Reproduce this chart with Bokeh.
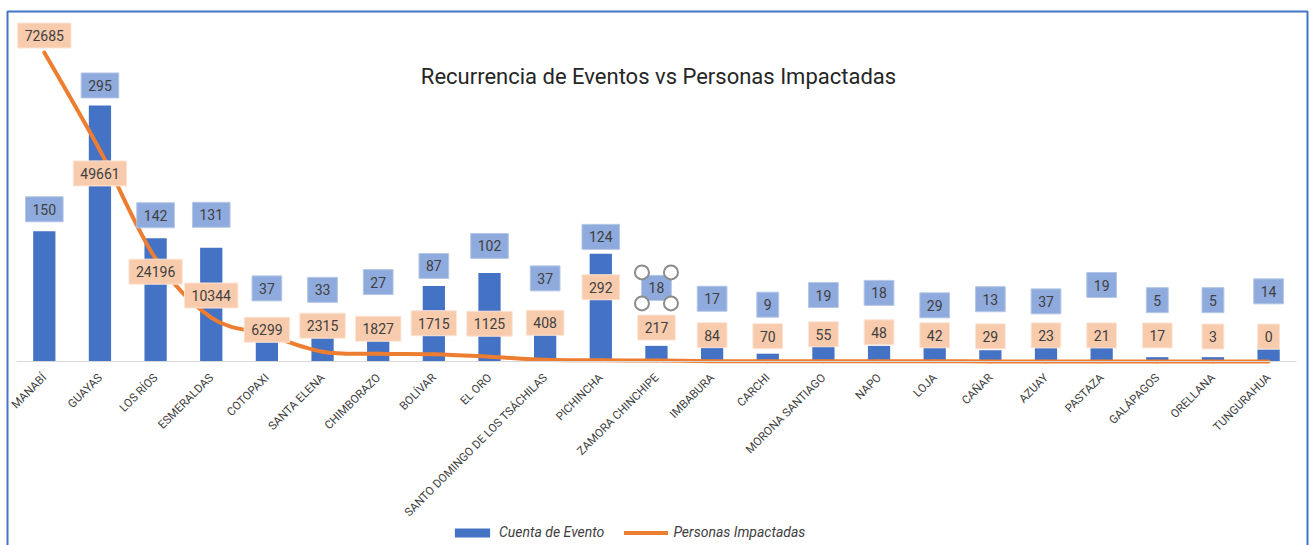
import math
from bokeh.plotting import figure
from bokeh.models import Range1d, FixedTicker, Legend, LegendItem, ColumnDataSource, BoxAnnotation
from bokeh.core.properties import value
from bokeh.embed import file_html
from bokeh.resources import INLINE

# ---------------- data ----------------
provincias = ["MANABÍ", "GUAYAS", "LOS RÍOS", "ESMERALDAS", "COTOPAXI", "SANTA ELENA",
              "CHIMBORAZO", "BOLÍVAR", "EL ORO", "SANTO DOMINGO DE LOS TSÁCHILAS",
              "PICHINCHA", "ZAMORA CHINCHIPE", "IMBABURA", "CARCHI", "MORONA SANTIAGO",
              "NAPO", "LOJA", "CAÑAR", "AZUAY", "PASTAZA", "GALÁPAGOS", "ORELLANA",
              "TUNGURAHUA"]
eventos = [150, 295, 142, 131, 37, 33, 27, 87, 102, 37, 124, 18, 17, 9, 19, 18, 29, 13,
           37, 19, 5, 5, 14]
personas = [72685, 49661, 24196, 10344, 6299, 2315, 1827, 1715, 1125, 408, 292, 217, 84,
            70, 55, 48, 42, 29, 23, 21, 17, 3, 0]

# ---------------- label layout (px above the data point) ----------------
ev_label_lift = [22, 20, 23, 33, 41, 43, 56, 20, 27, 51, 17, 58, 48, 49, 50, 53, 31, 51,
                 28, 60, 57, 57, 58]
per_label_lift = [17, -23, -13, 22, 5, 26, 25, 31, 33, 37, 73, 33, 26, 25, 27, 29, 26, 25,
                  26, 26, 26, 25, 25]

FONT = "Roboto"
BLUE = "#4472c4"
ORANGE = "#ed7d31"
TXT = "#404040"

# ---------------- layout constants (pixels) ----------------
W, H = 1310, 545
PX_PER_CAT = 55.65      # width of one category band
X0_PX = 43.8            # centre of first category
BASE_PX = 361           # baseline (value 0)
EV_PX = 0.868           # px per event
PER_PX = 0.004251       # px per person


def xd(px):
    return (px - X0_PX) / PX_PER_CAT


def yd(py):
    return (BASE_PX - py) / EV_PX


N = len(provincias)
idx = list(range(N))

src = ColumnDataSource(dict(
    x=idx, ev=eventos, per=personas,
    ev_txt=[str(v) for v in eventos], per_txt=[str(v) for v in personas],
    ev_off=[-v for v in ev_label_lift], per_off=[-v for v in per_label_lift],
))

p = figure(width=W, height=H, output_backend="svg", toolbar_location=None,
           x_range=Range1d(xd(0), xd(W)), y_range=Range1d(yd(H), yd(0)),
           y_axis_location=None, min_border_left=0, min_border_right=0,
           min_border_top=0, min_border_bottom=0,
           outline_line_color=None, background_fill_color="white",
           border_fill_color="white")
p.extra_y_ranges = {"per": Range1d((BASE_PX - H) / PER_PX, BASE_PX / PER_PX)}
p.xgrid.visible = False
p.ygrid.visible = False

ax = p.xaxis[0]
ax.fixed_location = 0
ax.bounds = (-0.5, N - 0.5)
ax.ticker = FixedTicker(ticks=idx)
ax.major_label_overrides = {i: n for i, n in enumerate(provincias)}
ax.major_label_orientation = math.pi / 4
ax.major_tick_line_color = None
ax.minor_tick_line_color = None
ax.axis_line_color = "#d9d9d9"
ax.major_label_text_font = FONT
ax.major_label_text_font_size = "11.5px"
ax.major_label_text_color = "#404040"
ax.major_label_standoff = 8

# chart border (open at the bottom, as in the reference)
p.add_layout(BoxAnnotation(left=xd(7), right=xd(1307), top=yd(11), bottom=yd(H + 40),
                           fill_color=None, line_color=BLUE, line_alpha=1.0, line_width=2))

# bars
bars = p.vbar(x="x", top="ev", width=0.4, fill_color=BLUE, line_color=None, source=src)

# smoothed line (Catmull-Rom -> cubic Bezier segments between data points)
x0s, y0s, x1s, y1s, cx0s, cy0s, cx1s, cy1s = [], [], [], [], [], [], [], []
for i in range(N - 1):
    a = i - 1 if i > 0 else i
    d = i + 2 if i + 2 < N else i + 1
    x0s.append(idx[i]); y0s.append(personas[i])
    x1s.append(idx[i + 1]); y1s.append(personas[i + 1])
    cx0s.append(idx[i] + (idx[i + 1] - idx[a]) / 6)
    cy0s.append(personas[i] + (personas[i + 1] - personas[a]) / 6)
    cx1s.append(idx[i + 1] - (idx[d] - idx[i]) / 6)
    cy1s.append(personas[i + 1] - (personas[d] - personas[i]) / 6)
line = p.bezier(x0=x0s, y0=y0s, x1=x1s, y1=y1s, cx0=cx0s, cy0=cy0s, cx1=cx1s, cy1=cy1s,
                line_color=ORANGE, line_width=4, line_cap="round", y_range_name="per")

# data labels
p.text(x="x", y="ev", text="ev_txt", y_offset="ev_off", source=src,
       text_align="center", text_baseline="middle", text_font=value(FONT),
       text_font_size="14px", text_color=TXT, background_fill_color="#8faadc",
       border_line_color="#b4c7e7", padding=7)
p.text(x="x", y="per", text="per_txt", y_offset="per_off", source=src,
       y_range_name="per", text_align="center", text_baseline="middle",
       text_font=value(FONT), text_font_size="14px", text_color=TXT,
       background_fill_color="#f8cbad", border_line_color="#fbe5d6", padding=7)

# selection handles around the ZAMORA CHINCHIPE label (as in the reference)
k = provincias.index("ZAMORA CHINCHIPE")
cy = eventos[k] + ev_label_lift[k] / EV_PX
hx, hy = 14.5 / PX_PER_CAT, 15.5 / EV_PX
p.scatter(x=[k - hx, k + hx, k - hx, k + hx], y=[cy + hy, cy + hy, cy - hy, cy - hy],
          size=14, marker="circle", fill_color="white", line_color="#8c8c8c", line_width=2)

# title
p.text(x=[xd(658)], y=[yd(76)], text=["Recurrencia de Eventos vs Personas Impactadas"],
       text_align="center", text_baseline="middle", text_font=value(FONT),
       text_font_size="22px", text_color="#262626")

legend = Legend(items=[LegendItem(label="Cuenta de Evento", renderers=[bars]),
                       LegendItem(label="Personas Impactadas", renderers=[line])],
                location=(450, 5), orientation="horizontal", glyph_width=44,
                glyph_height=11, label_text_font=FONT, label_text_font_style="italic",
                label_text_font_size="14px", label_text_color=TXT, spacing=20,
                padding=0, margin=0, border_line_color=None, background_fill_alpha=0,
                label_standoff=5)
p.add_layout(legend, "center")

open("out.html", "w").write(file_html(p, INLINE))
